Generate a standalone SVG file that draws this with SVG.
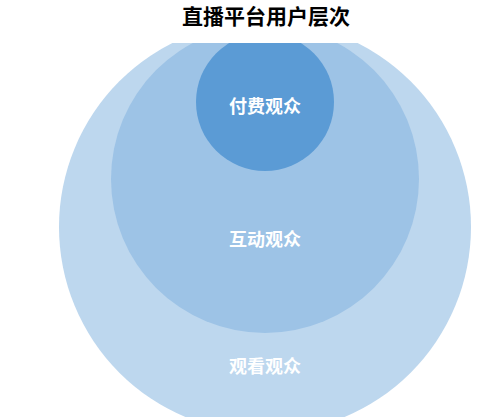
<svg xmlns="http://www.w3.org/2000/svg" width="487" height="417" viewBox="0 0 487 417">
<style>
.lbl{font-family:"Noto Sans CJK SC","Noto Sans CJK JP",sans-serif;font-size:18px;font-weight:bold;fill:#ffffff;text-anchor:middle}
.title{font-family:"Noto Sans CJK SC","Noto Sans CJK JP",sans-serif;font-size:21px;font-weight:bold;fill:#000000;text-anchor:middle}
</style>
<defs>
<clipPath id="plot"><rect x="0" y="43" width="487" height="374"/></clipPath>
</defs>
<rect width="487" height="417" fill="#ffffff"/>
<text class="title" x="266" y="24">直播平台用户层次</text>
<g clip-path="url(#plot)">
<g id="watch">
<circle cx="265" cy="227" r="206" fill="#BDD7EE"/>
</g>
<g id="interact">
<circle cx="265" cy="179" r="154" fill="#9DC3E6"/>
</g>
<g id="pay">
<circle cx="265" cy="102" r="69" fill="#5B9BD5"/>
</g>
</g>
<g id="labels">
<text class="lbl" x="265" y="113">付费观众</text>
<text class="lbl" x="265" y="246">互动观众</text>
<text class="lbl" x="265" y="373">观看观众</text>
</g>
<g id="connectors"/>
</svg>
